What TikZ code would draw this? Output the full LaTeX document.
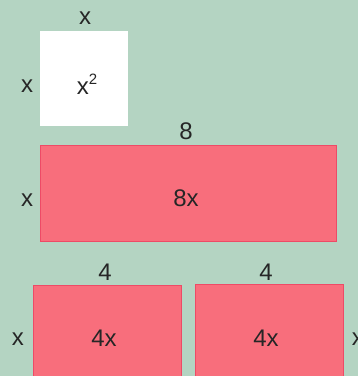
\documentclass[tikz,border=0pt]{standalone}
\usepackage{fontspec}
\setmainfont{Liberation Sans}
\definecolor{bgc}{HTML}{B4D4C2}
\definecolor{pinkf}{HTML}{F86E7C}
\definecolor{pinkd}{HTML}{EE4A66}
\begin{document}
\begin{tikzpicture}[x=1pt,y=-1pt,
  lab/.style={font=\fontsize{24}{28}\selectfont, inner sep=0pt, text=black!85},
  tile/.style={fill=pinkf, draw=pinkd, line width=0.8pt}]
\useasboundingbox (0,0) rectangle (358,376);
\clip (0,0) rectangle (358,376);
\fill[bgc] (0,0) rectangle (358,376);
% square
\fill[white] (40,31) rectangle (128,126);
\node[lab] (sqtop) at (85,18) {x};
\node[lab] (sqleft) at (27,86) {x};
\node[lab] (sqin) at (87,84) {x\raisebox{0.42em}{\fontsize{15}{17}\selectfont 2}};
% long rectangle
\draw[tile] (40,145) rectangle (336,241);
\node[lab] (ltop) at (186,131) {8};
\node[lab] (lleft) at (27,200) {x};
\node[lab] (lin) at (186,198) {8x};
% bottom rectangles
\draw[tile] (33,285) rectangle (181,390);
\draw[tile] (195,284) rectangle (343,390);
\node[lab] (atop) at (105,272) {4};
\node[lab] (btop) at (266,272) {4};
\node[lab] (aleft) at (18,339) {x};
\node[lab] (ain) at (104,338) {4x};
\node[lab] (bin) at (266,338) {4x};
\node[lab] (bright) at (358,339) {x};
\end{tikzpicture}
\end{document}
